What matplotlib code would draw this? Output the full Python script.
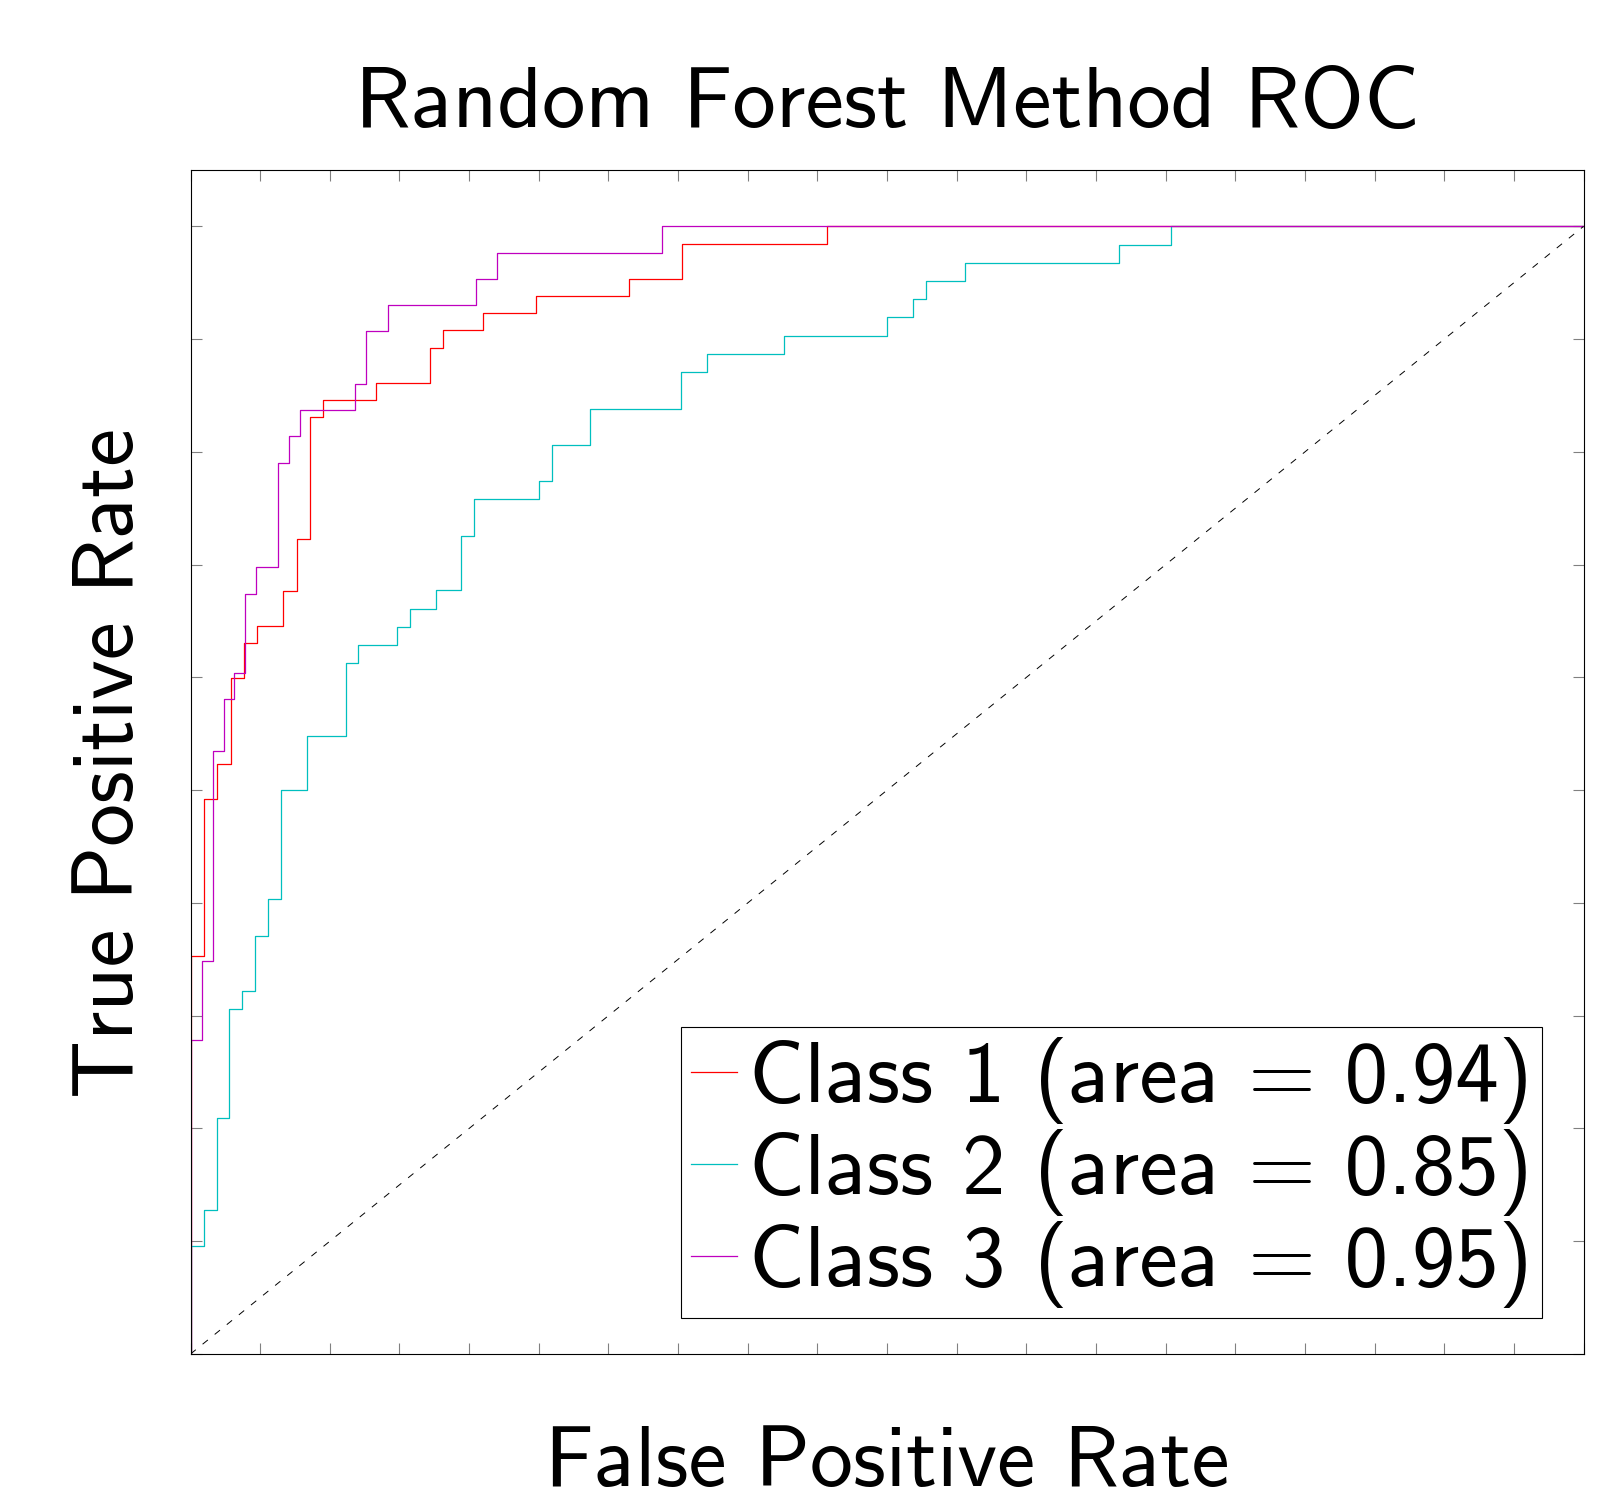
import numpy as np
import matplotlib
matplotlib.use('Agg')
import matplotlib.pyplot as plt

# === Step 1: ROC step data (fpr, tpr corners, 'post' steps) ===
fpr_class1 = [0, 0, 0.0097, 0.0190, 0.0289, 0.0384, 0.0477, 0.0666, 0.0762, 0.0858,
              0.0953, 0.1334, 0.1717, 0.1810, 0.2098, 0.2478, 0.3146, 0.3526, 0.4571, 1.0]
tpr_class1 = [0, 0.3534, 0.4918, 0.5229, 0.5997, 0.6305, 0.6458, 0.6769, 0.7228, 0.8307,
              0.8461, 0.8614, 0.8925, 0.9077, 0.9230, 0.9383, 0.9537, 0.9845, 1.0, 1.0]

fpr_class2 = [0, 0, 0.0095, 0.0188, 0.0279, 0.0372, 0.0463, 0.0556, 0.0652, 0.0836,
              0.1114, 0.1206, 0.1482, 0.1578, 0.1760, 0.1945, 0.2037, 0.2502, 0.2595, 0.2870,
              0.3521, 0.3706, 0.4263, 0.5001, 0.5187, 0.5280, 0.5558, 0.6668, 0.7037, 1.0]
tpr_class2 = [0, 0.0962, 0.1281, 0.2089, 0.3058, 0.3220, 0.3706, 0.4031, 0.4998, 0.5480,
              0.6125, 0.6287, 0.6450, 0.6611, 0.6773, 0.7257, 0.7580, 0.7740, 0.8062, 0.8384,
              0.8707, 0.8869, 0.9031, 0.9193, 0.9354, 0.9514, 0.9676, 0.9838, 1.0, 1.0]

fpr_class3 = [0, 0, 0.0080, 0.0159, 0.0238, 0.0314, 0.0393, 0.0472, 0.0630, 0.0709,
              0.0788, 0.1183, 0.1260, 0.1418, 0.2047, 0.2202, 0.3385, 1.0]
tpr_class3 = [0, 0.2787, 0.3481, 0.5347, 0.5811, 0.6043, 0.6740, 0.6977, 0.7905, 0.8139,
              0.8369, 0.8603, 0.9070, 0.9301, 0.9534, 0.9768, 1.0, 1.0]

class_names = ['Class 1', 'Class 2', 'Class 3']
aucs = [0.94, 0.85, 0.95]
colors = ['r', 'c', 'm']

# === Step 2: Figure setup ===
plt.rcParams['font.family'] = 'cmss10'
plt.rcParams['axes.formatter.use_mathtext'] = True

fig = plt.figure(figsize=(16.18, 14.93), dpi=100)
ax = fig.add_axes([0.11774, 0.0931, 0.86094, 0.79303])

# === Step 3: Curves ===
curves = [(fpr_class1, tpr_class1), (fpr_class2, tpr_class2), (fpr_class3, tpr_class3)]
for (fpr, tpr), name, auc, col in zip(curves, class_names, aucs, colors):
    ax.step(fpr, tpr, where='post', color=col, lw=0.9,
            label='%s (area = %.2f)' % (name, auc))

ax.plot([0, 1], [0, 1], color='black', lw=0.7, linestyle=(0, (7, 9)))

# === Step 4: Axes styling ===
ax.set_xlim(0, 1)
ax.set_ylim(0, 1.05)
ax.set_xticks(np.arange(0, 1.0001, 0.05))
ax.set_yticks(np.arange(0, 1.0001, 0.1))
ax.tick_params(direction='in', length=7.7, width=0.8, color='0.5',
               top=True, right=True, labelbottom=False, labelleft=False)
for sp in ax.spines.values():
    sp.set_linewidth(0.8)

ax.set_title('Random Forest Method ROC', fontsize=62.4, pad=31)

ax.set_xlabel('False Positive Rate', fontsize=61.8)
ax.xaxis.label.set_va('baseline')
ax.xaxis.set_label_coords(0.5, -0.1115)

ax.set_ylabel('True Positive Rate', fontsize=61.5)
ax.yaxis.label.set_rotation_mode('anchor')
ax.yaxis.label.set_va('baseline')
ax.yaxis.label.set_ha('center')
ax.yaxis.set_label_coords(-0.0413, 0.499)

leg = ax.legend(loc='lower right', bbox_to_anchor=(0.9702, 0.0304), borderaxespad=0,
                fontsize=62.5, frameon=True, fancybox=False, framealpha=1,
                edgecolor='black', handlelength=0.53, handletextpad=0.14,
                borderpad=0.11, labelspacing=0.06)
leg.get_frame().set_linewidth(0.8)

plt.savefig('out.png', dpi=100)
